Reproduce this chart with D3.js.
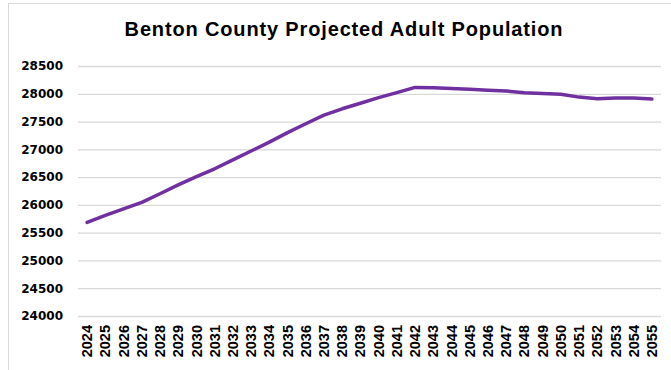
<!DOCTYPE html>
<html><head><meta charset="utf-8">
<script src="https://cdn.jsdelivr.net/npm/d3@7"></script>
<style>body{margin:0;background:#fff}svg{display:block}</style>
</head><body>
<script>
const years = [2024,2025,2026,2027,2028,2029,2030,2031,2032,2033,2034,2035,2036,2037,2038,2039,2040,2041,2042,2043,2044,2045,2046,2047,2048,2049,2050,2051,2052,2053,2054,2055];
const population = [25685,25810,25930,26045,26200,26360,26510,26650,26810,26970,27130,27300,27460,27616,27730,27830,27930,28020,28115,28110,28095,28080,28065,28050,28020,28005,27990,27940,27910,27925,27925,27905];
const yTicks = [24000,24500,25000,25500,26000,26500,27000,27500,28000,28500];
const title = "Benton County Projected Adult Population";

(function(){
const W = 671, H = 370;
const svg = d3.select("body").append("svg").attr("width", W).attr("height", H);

svg.append("rect").attr("x", 8.5).attr("y", 3.5).attr("width", 700).attr("height", 400)
  .attr("fill", "#fff").attr("stroke", "#d9d9d9").attr("stroke-width", 1);

const mL = 78, mR = 661, mT = 66, mB = 316;
const x = d3.scaleBand().domain(years).range([mL, mR]);
const y = d3.scaleLinear().domain([24000, 28500]).range([mB, mT]);

svg.append("text").attr("x", 344).attr("y", 36).attr("text-anchor", "middle")
  .attr("font-family", "'Liberation Sans',Arial,sans-serif")
  .attr("font-weight", "bold").attr("font-size", 20).attr("letter-spacing", "0.85px")
  .attr("fill", "#000").text(title);

const gy = svg.append("g").attr("transform", `translate(${mL},0)`)
  .call(d3.axisLeft(y).tickValues(yTicks).tickSize(-(mR-mL)).tickPadding(15).tickFormat(d3.format("d")));
gy.select(".domain").remove();
gy.selectAll(".tick line").attr("stroke", "#d9d9d9").attr("stroke-width", 1.3);
gy.selectAll(".tick text").attr("font-family", "'DejaVu Sans',sans-serif").attr("font-weight", "bold")
  .attr("font-size", 12).attr("fill", "#000");

const gx = svg.append("g").attr("transform", `translate(0,${mB})`)
  .call(d3.axisBottom(x).tickSize(0).tickPadding(0));
gx.select(".domain").remove();
gx.selectAll(".tick text").attr("font-family", "'Liberation Sans',Arial,sans-serif").attr("font-weight", "bold")
  .attr("font-size", 14.5).attr("fill", "#000")
  .attr("transform", "rotate(-90)").attr("text-anchor", "end")
  .attr("x", -9).attr("y", 0).attr("dy", "0.35em");

const line = d3.line().x((d,i) => x(years[i]) + x.bandwidth()/2).y(d => y(d));
svg.append("path").datum(population).attr("d", line).attr("fill", "none")
  .attr("stroke", "#7030A0").attr("stroke-width", 3.5).attr("stroke-linejoin", "round").attr("stroke-linecap", "round");
})();
</script>
</body></html>
